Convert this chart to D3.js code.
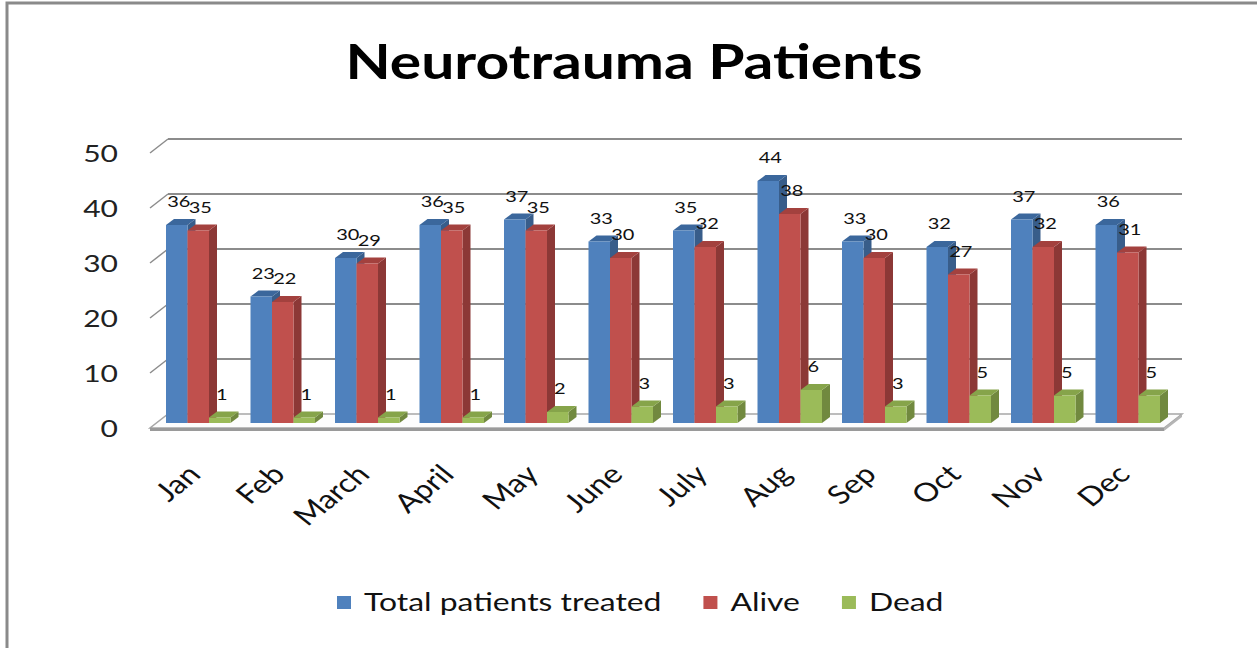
<!DOCTYPE html>
<html><head><meta charset="utf-8">
<script src="https://cdn.jsdelivr.net/npm/d3@7"></script>
<style>body{margin:0;background:#fff}svg{display:block}</style>
</head><body><svg id="c" width="1257" height="648"></svg>
<script>
const months = ["Jan","Feb","March","April","May","June","July","Aug","Sep","Oct","Nov","Dec"];
const seriesNames = ["Total patients treated","Alive","Dead"];
const totalTreated = [36,23,30,36,37,33,35,44,33,32,37,36];
const alive = [35,22,29,35,35,30,32,38,30,27,32,31];
const dead = [1,1,1,1,2,3,3,6,3,5,5,5];
const yTicks = [0,10,20,30,40,50];
const titleText = "Neurotrauma Patients";

const seriesValues = [totalTreated, alive, dead];
const frontCol = ["#4F81BD","#C0504D","#9BBB59"];
const sideCol  = ["#385D8A","#8C3836","#71893F"];
const topCol   = ["#3B679C","#A3413E","#86A44A"];

const SX = 1.25;               // horizontal stretch of the source picture
const svg = d3.select("#c");

// frame
svg.append("rect").attr("x",7).attr("y",3).attr("width",1260).attr("height",660)
  .attr("fill","none").attr("stroke","#8a8a8a").attr("stroke-width",3);

const FL = 150, FR = 1164, BASE = 428;
const DX = 18, DY = -14;       // wall depth
const BX = 6, BY = -5;         // bar position inside depth
const BDX = 8, BDY = -6;       // bar depth

const y = d3.scaleLinear().domain([0,50]).range([BASE,153]);
const x0 = d3.scaleBand().domain(months).range([FL,FR]);
const bw = x0.bandwidth();
const gw = 64.5;
const x1 = d3.scaleBand().domain(seriesNames).range([(bw-gw)/2,(bw+gw)/2]);

function stretchText(sel, x, yy, extra){
  return sel.attr("transform", `translate(${x},${yy}) scale(${SX},1)` + (extra||""));
}

// back wall gridlines + left diagonal ticks
const g = svg.append("g");
yTicks.filter(v=>v>0).forEach(v=>{
  g.append("line").attr("x1",FL+DX).attr("x2",FR+DX)
    .attr("y1",y(v)+DY).attr("y2",y(v)+DY).attr("stroke","#8c8c8c").attr("stroke-width",2);
  g.append("line").attr("x1",FL).attr("y1",y(v)).attr("x2",FL+DX).attr("y2",y(v)+DY)
    .attr("stroke","#8c8c8c").attr("stroke-width",1.5);
});

// floor
const floorPts = [[FL,BASE],[FR,BASE],[FR+DX,BASE+DY],[FL+DX,BASE+DY]];
g.append("polygon").attr("points",floorPts.map(p=>p.join(",")).join(" "))
  .attr("fill","#fdfdfd").attr("stroke","#a6a6a6").attr("stroke-width",1.5);
g.append("polygon").attr("points",[[FL,BASE],[FR,BASE],[FR,BASE+3],[FL,BASE+3]].map(p=>p.join(",")).join(" "))
  .attr("fill","#9a9a9a");
g.append("polygon").attr("points",[[FR,BASE],[FR+DX,BASE+DY],[FR+DX,BASE+DY+3],[FR,BASE+3]].map(p=>p.join(",")).join(" "))
  .attr("fill","#b5b5b5");

// tick labels
yTicks.forEach(v=>{
  stretchText(svg.append("text"), 118, y(v))
    .attr("text-anchor","end").attr("dominant-baseline","central")
    .attr("font-family","Lato").attr("font-size",24).attr("fill","#222").text(v);
});

// bars
const bars = svg.append("g");
const labels = svg.append("g");
months.forEach((m,i)=>{
  seriesNames.forEach((s,k)=>{
    const v = seriesValues[k][i];
    const xl = x0(m) + x1(s) + BX;
    const w = x1.bandwidth();
    const yb = y(0) + BY;
    const yt = y(v) + BY;
    bars.append("polygon").attr("points",[[xl+w,yb],[xl+w+BDX,yb+BDY],[xl+w+BDX,yt+BDY],[xl+w,yt]].map(p=>p.join(",")).join(" "))
      .attr("fill",sideCol[k]);
    bars.append("polygon").attr("points",[[xl,yt],[xl+w,yt],[xl+w+BDX,yt+BDY],[xl+BDX,yt+BDY]].map(p=>p.join(",")).join(" "))
      .attr("fill",topCol[k]);
    bars.append("rect").attr("x",xl).attr("y",yt).attr("width",w).attr("height",yb-yt)
      .attr("fill",frontCol[k]);
    stretchText(labels.append("text"), xl + w/2 + 2, yt - 18)
      .attr("text-anchor","middle").attr("font-family","Lato").attr("font-size",16)
      .attr("fill","#111").text(v);
  });
});

// x labels
months.forEach(m=>{
  stretchText(svg.append("text"), x0(m)+bw/2+BX+4, 476, " rotate(-45)")
    .attr("text-anchor","end").attr("font-family","Lato").attr("font-size",26)
    .attr("fill","#111").text(m);
});

// title
stretchText(svg.append("text"), 634, 79)
  .attr("text-anchor","middle").attr("font-family","Lato").attr("font-weight","bold")
  .attr("font-size",47).attr("fill","#000").text(titleText);

// legend
const leg = svg.append("g");
let lx = 337;
seriesNames.forEach((s,k)=>{
  leg.append("rect").attr("x",lx).attr("y",596).attr("width",14).attr("height",13).attr("fill",frontCol[k]);
  const t = stretchText(leg.append("text"), lx+27, 611)
    .attr("font-family","Lato").attr("font-size",25.5).attr("fill","#111").text(s);
  const tw = t.node().getComputedTextLength()*SX;
  lx = lx + 27 + tw + 42;
});
</script></body></html>
